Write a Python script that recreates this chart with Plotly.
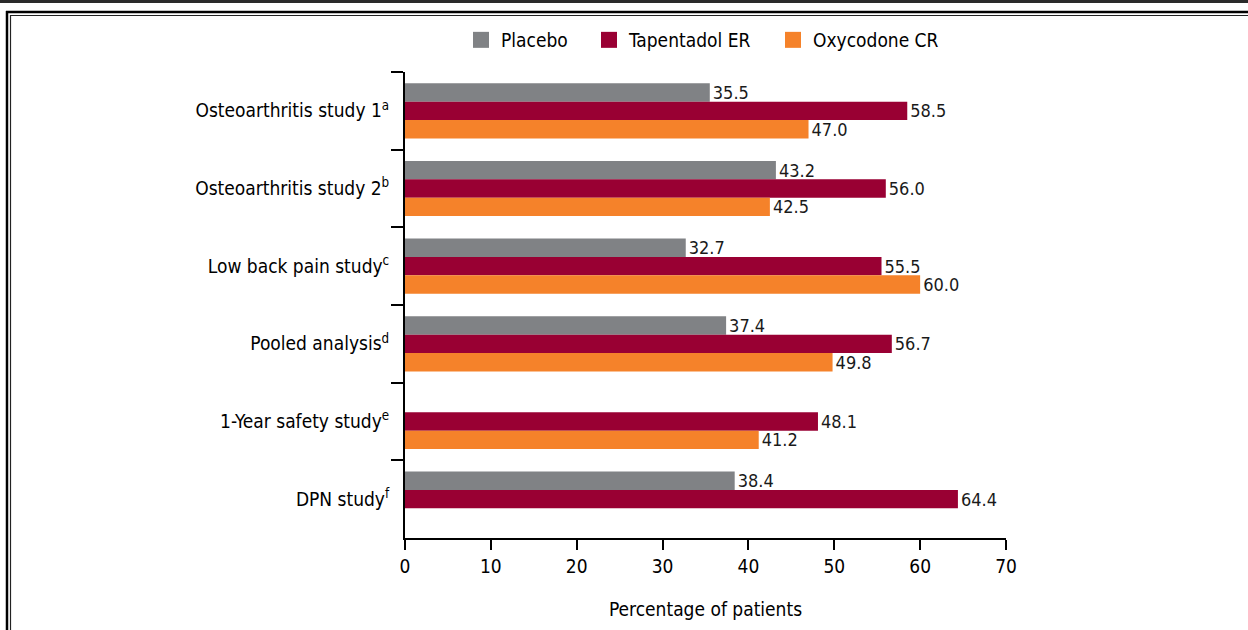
import plotly.graph_objects as go

categories = [
    "Osteoarthritis study 1<sup>a</sup>",
    "Osteoarthritis study 2<sup>b</sup>",
    "Low back pain study<sup>c</sup>",
    "Pooled analysis<sup>d</sup>",
    "1-Year safety study<sup>e</sup>",
    "DPN study<sup>f</sup>",
]
placebo = [35.5, 43.2, 32.7, 37.4, None, 38.4]
tapentadol = [58.5, 56.0, 55.5, 56.7, 48.1, 64.4]
oxycodone = [47.0, 42.5, 60.0, 49.8, 41.2, None]
series_names = ["Placebo", "Tapentadol ER", "Oxycodone CR"]
x_ticks = [0, 10, 20, 30, 40, 50, 60, 70]

colors = ["#808285", "#990033", "#F5822A"]
FONT = "Liberation Sans Narrow, DejaVu Sans Condensed, Arial Narrow, sans-serif"

W, H = 1248, 630
L, R, T, B = 405, 242, 72, 92
pw, ph = W - L - R, H - T - B


def px_x(p):
    return (p - L) / pw


def px_y(p):
    return (H - B - p) / ph


legend_ids = ["legend", "legend2", "legend3"]
legend_left_px = [461, 589, 773]

fig = go.Figure()
for name, vals, col, lid in zip(series_names, [placebo, tapentadol, oxycodone], colors, legend_ids):
    fig.add_trace(go.Bar(
        y=categories, x=vals, orientation="h", name=name,
        marker=dict(color=col, line=dict(width=0)),
        texttemplate="%{x:.1f}", textposition="outside",
        textfont=dict(family=FONT, size=18, color="#1a1a1a"),
        constraintext="none", cliponaxis=False, showlegend=False,
    ))
    fig.add_trace(go.Scatter(
        x=[None], y=[None], mode="markers", name=name,
        marker=dict(symbol="square", size=16, color=col),
        showlegend=True, legend=lid,
    ))

shapes = [
    dict(type="rect", xref="paper", yref="paper", x0=px_x(0), x1=px_x(W), y0=px_y(0), y1=px_y(3),
         fillcolor="#2a2a2a", line=dict(width=0), layer="above"),
    dict(type="line", xref="paper", yref="paper", x0=px_x(6), x1=px_x(W + 5), y0=px_y(12), y1=px_y(12),
         line=dict(color="black", width=2.5)),
    dict(type="line", xref="paper", yref="paper", x0=px_x(7), x1=px_x(7), y0=px_y(11), y1=px_y(H + 5),
         line=dict(color="black", width=2.5)),
    dict(type="line", xref="paper", yref="paper", x0=px_x(10.5), x1=px_x(W + 5), y0=px_y(15.5), y1=px_y(15.5),
         line=dict(color="#222", width=1.2)),
    dict(type="line", xref="paper", yref="paper", x0=px_x(10.5), x1=px_x(10.5), y0=px_y(15), y1=px_y(H + 5),
         line=dict(color="#222", width=1.2)),
]

legend_common = dict(orientation="h", yanchor="middle", y=px_y(40), xanchor="left",
                     font=dict(family=FONT, size=19, color="black"),
                     itemwidth=30, bgcolor="rgba(0,0,0,0)")

layout_legends = {}
for lid, lx in zip(legend_ids, legend_left_px):
    layout_legends[lid] = dict(legend_common, x=px_x(lx))

fig.update_layout(
    width=W, height=H,
    margin=dict(l=L, r=R, t=T, b=B),
    paper_bgcolor="white", plot_bgcolor="white",
    barmode="group", bargap=0.29, bargroupgap=0,
    font=dict(family=FONT, size=19, color="black"),
    shapes=shapes,
    xaxis=dict(range=[0, 70], tickvals=x_ticks, showgrid=False, zeroline=False,
               showline=True, linecolor="black", linewidth=2,
               ticks="outside", ticklen=10, tickwidth=2, tickcolor="black",
               tickfont=dict(family=FONT, size=19, color="black"),
               title=dict(text="Percentage of patients", standoff=27,
                          font=dict(family=FONT, size=19, color="black"))),
    yaxis=dict(autorange=False, range=[5.5, -0.5], type="category",
               showgrid=False, zeroline=False,
               showline=True, linecolor="black", linewidth=2,
               ticks="outside", tickson="boundaries", ticklen=12, tickwidth=2, tickcolor="black",
               tickfont=dict(family=FONT, size=19, color="black"), ticklabelstandoff=10),
    **layout_legends,
)

fig.write_html("out.html", config={"displayModeBar": False},
               post_script="document.body.style.margin='0px';")
